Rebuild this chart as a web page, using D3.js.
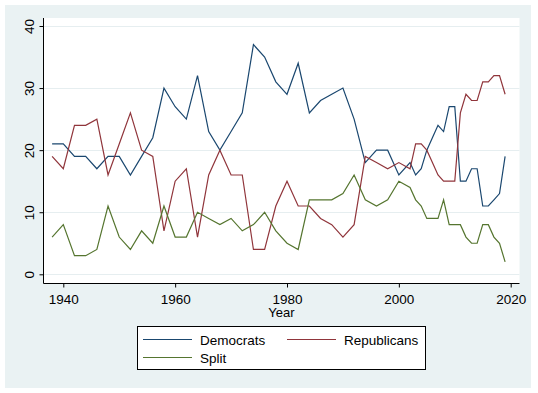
<!DOCTYPE html>
<html>
<head>
<meta charset="utf-8">
<script src="https://cdn.jsdelivr.net/npm/d3@7"></script>
<style>
  body { margin: 0; background: #fff; }
  text { font-family: "Liberation Sans", Arial, sans-serif; fill: #000; }
</style>
</head>
<body>
<svg id="chart" width="538" height="393"></svg>
<script>
// data
const years = [1938, 1940, 1942, 1944, 1946, 1948, 1950, 1952, 1954, 1956,
  1958, 1960, 1962, 1964, 1966, 1968, 1970, 1972, 1974, 1976, 1978, 1980,
  1982, 1984, 1986, 1988, 1990, 1992, 1994, 1996, 1998, 2000, 2002, 2003,
  2004, 2005, 2006, 2007, 2008, 2009, 2010, 2011, 2012, 2013, 2014, 2015,
  2016, 2017, 2018, 2019];
const democrats = [21, 21, 19, 19, 17, 19, 19, 16, 19, 22,
  30, 27, 25, 32, 23, 20, 23, 26, 37, 35, 31, 29,
  34, 26, 28, 29, 30, 25, 18, 20, 20, 16, 18, 16,
  17, 20, 22, 24, 23, 27, 27, 15, 15, 17, 17, 11,
  11, 12, 13, 19];
const republicans = [19, 17, 24, 24, 25, 16, 21, 26, 20, 19,
  7, 15, 17, 6, 16, 20, 16, 16, 4, 4, 11, 15,
  11, 11, 9, 8, 6, 8, 19, 18, 17, 18, 17, 21,
  21, 20, 18, 16, 15, 15, 15, 26, 29, 28, 28, 31,
  31, 32, 32, 29];
const split = [6, 8, 3, 3, 4, 11, 6, 4, 7, 5,
  11, 6, 6, 10, 9, 8, 9, 7, 8, 10, 7, 5,
  4, 12, 12, 12, 13, 16, 12, 11, 12, 15, 14, 12,
  11, 9, 9, 9, 12, 8, 8, 8, 6, 5, 5, 8,
  8, 6, 5, 2];
const seriesNames = ["Democrats", "Republicans", "Split"];
const seriesColors = ["#1a476f", "#90353b", "#55752f"];
const xTicks = [1940, 1960, 1980, 2000, 2020];
const yTicks = [0, 10, 20, 30, 40];

const svg = d3.select("#chart");
const plot = { left: 43.5, right: 519.5, top: 18, bottom: 283.5 };

// graph region background
svg.append("rect")
  .attr("x", 5).attr("y", 5).attr("width", 526).attr("height", 383)
  .attr("fill", "#eaf2f3");
svg.append("rect")
  .attr("x", plot.left).attr("y", plot.top)
  .attr("width", plot.right - plot.left).attr("height", plot.bottom - plot.top)
  .attr("fill", "#fff");

const x = d3.scaleLinear().domain([1940, 2020]).range([63.3, 510.7]);
const y = d3.scaleLinear().domain([0, 40]).range([274.3, 26]);

// gridlines
svg.append("g")
  .selectAll("line")
  .data(yTicks)
  .join("line")
  .attr("x1", plot.left).attr("x2", plot.right)
  .attr("y1", d => Math.round(y(d)) + 0.5).attr("y2", d => Math.round(y(d)) + 0.5)
  .attr("stroke", "#e6eef0")
  .attr("stroke-width", 1);

// axes
const yAxis = svg.append("g")
  .attr("transform", "translate(" + plot.left + ",0)")
  .call(d3.axisLeft(y).tickValues(yTicks).tickSize(4).tickSizeOuter(0));
yAxis.select(".domain").attr("d", "M0," + plot.top + "V" + plot.bottom);
yAxis.selectAll("text")
  .attr("transform", "translate(-10,0) rotate(-90)")
  .attr("x", 0).attr("y", 0).attr("dy", 0)
  .attr("text-anchor", "middle")
  .style("font-size", "13.5px");

const xAxis = svg.append("g")
  .attr("transform", "translate(0," + plot.bottom + ")")
  .call(d3.axisBottom(x).tickValues(xTicks).tickFormat(d3.format("d")).tickSize(4).tickSizeOuter(0));
xAxis.select(".domain").attr("d", "M" + plot.left + ",0H" + plot.right);
xAxis.selectAll("text")
  .attr("y", 20).attr("dy", 0)
  .style("font-size", "13.5px");
svg.selectAll(".tick text").attr("font-family", null);
svg.selectAll(".domain, .tick line").attr("stroke", "#000");

svg.append("text")
  .attr("x", (plot.left + plot.right) / 2).attr("y", 317)
  .attr("text-anchor", "middle")
  .style("font-size", "13px")
  .text("Year");

// lines
const allSeries = [democrats, republicans, split];
const line = d3.line()
  .x((d, i) => x(years[i]))
  .y(d => y(d));
svg.append("g")
  .selectAll("path")
  .data(allSeries)
  .join("path")
  .attr("d", line)
  .attr("fill", "none")
  .attr("stroke", (d, i) => seriesColors[i])
  .attr("stroke-width", 1.2);

// legend
const legend = svg.append("g");
legend.append("rect")
  .attr("x", 137.5).attr("y", 326.5).attr("width", 288).attr("height", 43)
  .attr("fill", "#fff").attr("stroke", "#000");
const legendPos = [[143, 339.5], [287, 339.5], [143, 357.5]];
seriesNames.forEach((name, i) => {
  const [lx, ly] = legendPos[i];
  legend.append("line")
    .attr("x1", lx).attr("x2", lx + 49)
    .attr("y1", ly).attr("y2", ly)
    .attr("stroke", seriesColors[i]).attr("stroke-width", 1.2);
  legend.append("text")
    .attr("x", lx + 57).attr("y", ly + 5)
    .style("font-size", "13.5px")
    .text(name);
});
</script>
</body>
</html>
